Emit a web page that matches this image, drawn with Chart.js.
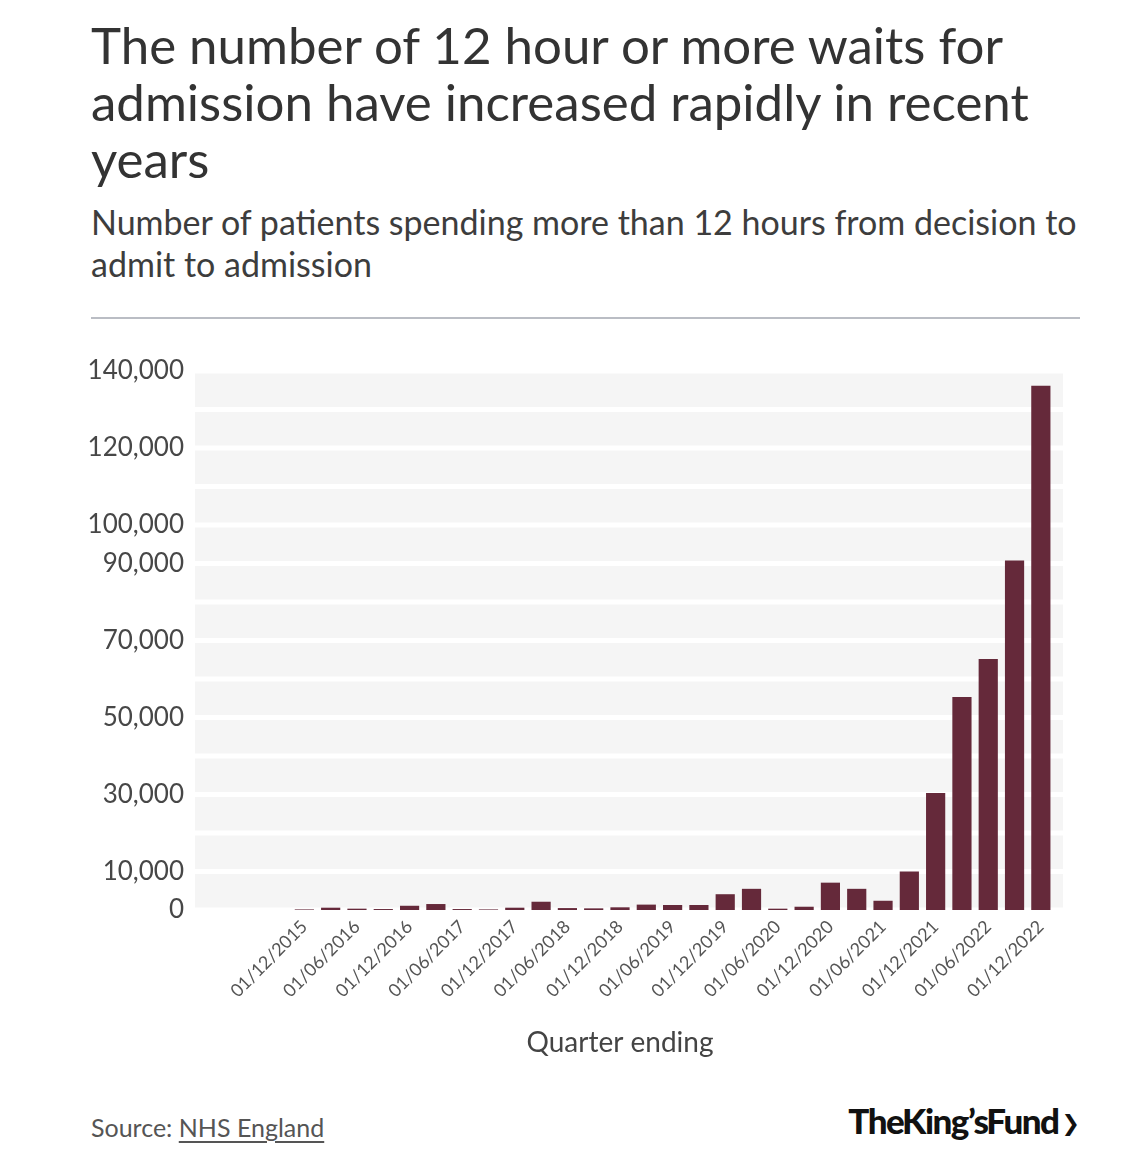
<!DOCTYPE html>
<html>
<head>
<meta charset="utf-8">
<script src="https://cdn.jsdelivr.net/npm/chart.js@4/dist/chart.umd.min.js"></script>
<style>
  body { margin: 0; background: #fff; font-family: Lato, "Open Sans", sans-serif; }
  .page { position: relative; width: 1136px; height: 1163px; overflow: hidden; }
  .title { position: absolute; left: 91px; top: 16px; font-size: 51px; line-height: 57px; color: #333; }
  .subtitle { position: absolute; left: 91px; top: 201px; font-size: 34px; line-height: 42px; color: #3d3d3d; }
  .rule { position: absolute; left: 91px; top: 317px; width: 989px; height: 2px; background: #babdc4; }
  .chart-box { position: absolute; left: 0; top: 340px; width: 1136px; height: 735px; }
  .source { position: absolute; left: 91px; top: 1112px; font-size: 25px; line-height: 30px; color: #555; }
  .source span { text-decoration: underline; text-underline-offset: 4px; }
  .logo { position: absolute; right: 56px; top: 1100px; font-size: 35px; line-height: 40px; font-weight: 900; color: #111; letter-spacing: -1.5px; word-spacing: -8px; }
  .logo b { font-family: "DejaVu Sans", sans-serif; font-size: 22px; font-weight: 700; margin-left: 3px; vertical-align: 3px; letter-spacing: 0; }
</style>
</head>
<body>
<div class="page">
  <div class="title">The number of 12 hour or more waits for<br>admission have increased rapidly in recent<br>years</div>
  <div class="subtitle">Number of patients spending more than 12 hours from decision to<br>admit to admission</div>
  <div class="rule"></div>
  <div class="chart-box"><canvas id="waitsChart"></canvas></div>
  <div class="source">Source: <span>NHS England</span></div>
  <div class="logo">The King’s Fund<b>❯</b></div>
</div>

<script>
// Quarter ending dates (the first four quarters have no data)
const quarters = [
    '01/12/2014', '01/03/2015', '01/06/2015', '01/09/2015',
    '01/12/2015', '01/03/2016', '01/06/2016', '01/09/2016',
    '01/12/2016', '01/03/2017', '01/06/2017', '01/09/2017',
    '01/12/2017', '01/03/2018', '01/06/2018', '01/09/2018',
    '01/12/2018', '01/03/2019', '01/06/2019', '01/09/2019',
    '01/12/2019', '01/03/2020', '01/06/2020', '01/09/2020',
    '01/12/2020', '01/03/2021', '01/06/2021', '01/09/2021',
    '01/12/2021', '01/03/2022', '01/06/2022', '01/09/2022',
    '01/12/2022'
];

// Patients waiting 12+ hours from decision to admit
const waits = [
    null, null, null, null,
    150, 600, 350, 250,
    1100, 1550, 250, 150,
    600, 2150, 500, 430,
    700, 1400, 1300, 1300,
    4100, 5500, 350, 850,
    7100, 5500, 2400, 10000,
    30400, 55300, 65200, 90800,
    136200
];

// Dates shown on the x axis
const xTickLabels = [
    '01/12/2015', '01/06/2016', '01/12/2016', '01/06/2017', '01/12/2017',
    '01/06/2018', '01/12/2018', '01/06/2019', '01/12/2019', '01/06/2020',
    '01/12/2020', '01/06/2021', '01/12/2021', '01/06/2022', '01/12/2022'
];

// Values labelled on the y axis
const yTickLabels = [0, 10000, 30000, 50000, 70000, 90000, 100000, 120000, 140000];

// Grey plot background with white grid bands
const bandPlugin = {
    id: 'bands',
    beforeDatasetsDraw(chart) {
        const { ctx, chartArea, scales } = chart;
        const shift = 9;
        ctx.save();
        ctx.fillStyle = '#f5f5f5';
        ctx.fillRect(chartArea.left + shift, chartArea.top, chartArea.width, chartArea.height);
        ctx.strokeStyle = '#ffffff';
        ctx.lineWidth = 5;
        scales.y.ticks.forEach(function(tick) {
            const py = scales.y.getPixelForValue(tick.value);
            ctx.beginPath();
            ctx.moveTo(chartArea.left + shift, py);
            ctx.lineTo(chartArea.right + shift, py);
            ctx.stroke();
        });
        ctx.restore();
    }
};

document.addEventListener('DOMContentLoaded', function() {
    const ctx = document.getElementById('waitsChart').getContext('2d');
    new Chart(ctx, {
        type: 'bar',
        data: {
            labels: quarters,
            datasets: [{
                data: waits,
                backgroundColor: '#65293a',
                barPercentage: 0.73,
                categoryPercentage: 1
            }]
        },
        options: {
            responsive: true,
            maintainAspectRatio: false,
            animation: false,
            layout: { padding: { top: 31, right: 82, left: 0, bottom: 0 } },
            plugins: {
                legend: { display: false },
                tooltip: { enabled: false }
            },
            scales: {
                x: {
                    grid: { display: false, drawTicks: false },
                    border: { display: false },
                    afterFit: function(scale) { scale.height = 165; },
                    ticks: {
                        autoSkip: false,
                        minRotation: 45,
                        maxRotation: 45,
                        padding: 6,
                        color: '#555',
                        font: { family: 'Lato', size: 18 },
                        callback: function(value) {
                            const label = this.getLabelForValue(value);
                            return xTickLabels.includes(label) ? label : '';
                        }
                    },
                    title: {
                        display: true,
                        text: 'Quarter ending',
                        color: '#444',
                        font: { family: 'Lato', size: 28 },
                        padding: { top: 0, bottom: 15 }
                    }
                },
                y: {
                    min: 0,
                    max: 140000,
                    grid: { display: false, drawTicks: false },
                    border: { display: false },
                    afterFit: function(scale) { scale.width = 186; },
                    ticks: {
                        stepSize: 10000,
                        autoSkip: false,
                        padding: 2,
                        color: '#474747',
                        font: { family: 'Lato', size: 26 },
                        callback: function(value) {
                            return yTickLabels.includes(value) ? value.toLocaleString('en-GB') : '';
                        }
                    }
                }
            }
        },
        plugins: [bandPlugin]
    });
});
</script>
</body>
</html>
